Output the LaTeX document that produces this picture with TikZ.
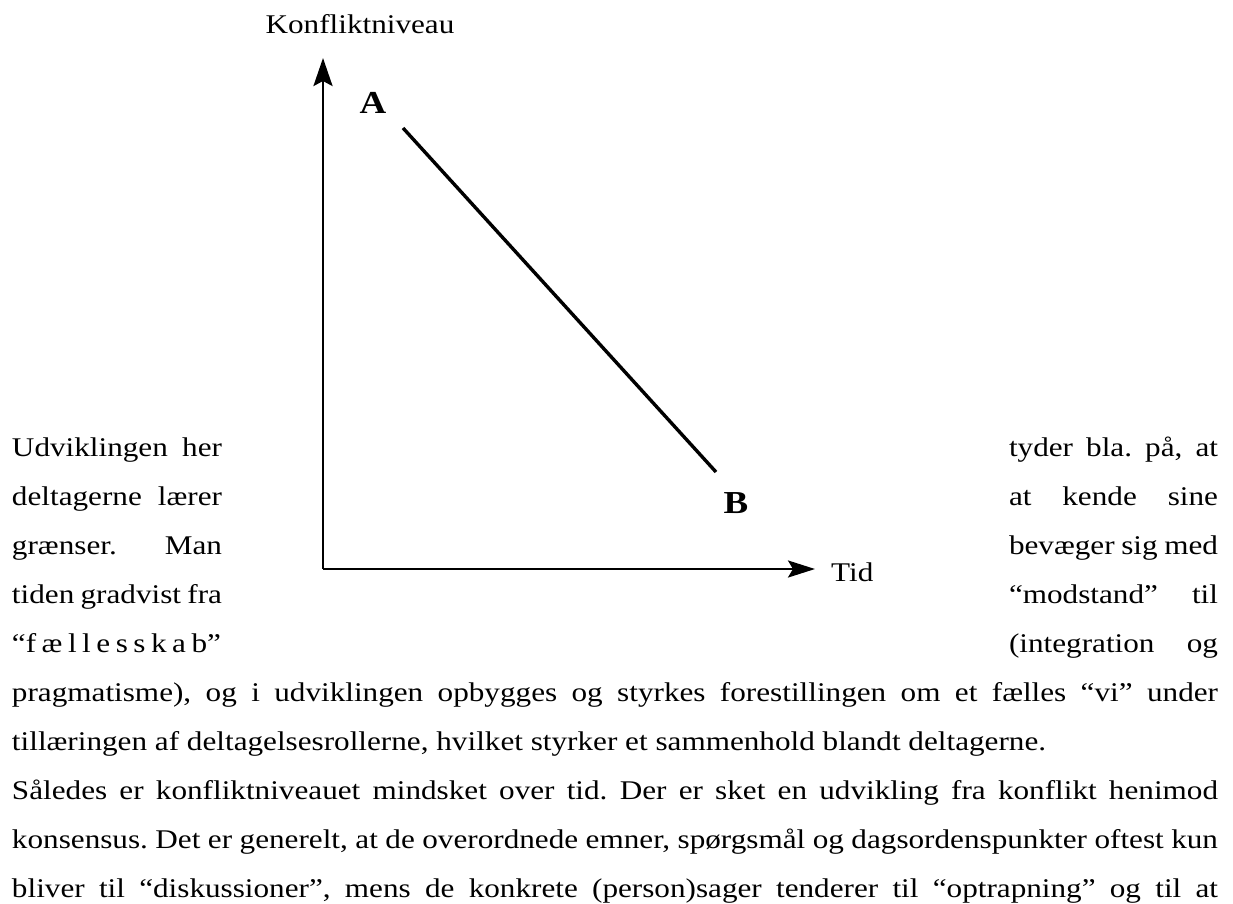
\documentclass[tikz,border=0pt]{standalone}
\usepackage{fontspec}
\setmainfont[FakeStretch=1.155]{Liberation Serif}
\usetikzlibrary{arrows.meta}
\frenchspacing
\tikzset{
  body/.style={inner sep=0pt, outer sep=0pt, anchor=base west, font=\fontsize{27}{49}\selectfont},
  axislabel/.style={inner sep=0pt, font=\fontsize{27}{32}\selectfont},
  pointlabel/.style={inner sep=0pt, anchor=base, font=\fontsize{32}{38}\selectfont\bfseries},
  yaxis/.style={line width=2.7pt, -{Stealth[length=28pt,width=19pt,inset=5pt]}},
  xaxis/.style={line width=2.7pt, -{Stealth[length=27pt,width=17pt,inset=5pt]}},
  trend/.style={line width=3.4pt}
}
\begin{document}
\begin{tikzpicture}[x=1pt,y=-1pt]
\useasboundingbox (0,0) rectangle (1233,903);

% axes of the sketch
\coordinate (origin) at (323,569);
\coordinate (ytip) at (323,58);
\coordinate (xtip) at (815,569);
\draw[yaxis] (origin) -- (ytip);
\draw[xaxis] (origin) -- (xtip);
\node[axislabel, anchor=base] (ylab) at (360,33) {Konfliktniveau};
\node[axislabel, anchor=base west] (xlab) at (831,581) {Tid};

% falling conflict level from A to B
\coordinate (ptA) at (403,128);
\coordinate (ptB) at (716,472);
\draw[trend] (ptA) -- (ptB);
\node[pointlabel] (labA) at (373,113) {A};
\node[pointlabel] (labB) at (736,513) {B};

% text flowing round the sketch: left column
\node[body] (l1) at (12,456) {\makebox[210pt][s]{Udviklingen her}};
\node[body] (l2) at (12,505) {\makebox[210pt][s]{deltagerne lærer}};
\node[body] (l3) at (12,554) {\makebox[210pt][s]{grænser. Man}};
\node[body] (l4) at (12,603) {\makebox[210pt][s]{tiden gradvist fra}};
\node[body] (l5) at (12,652) {\makebox[209pt][s]{“f\hfill æ\hfill l\hfill l\hfill e\hfill s\hfill s\hfill k\hfill a\hfill b”}};

% right column
\node[body] (r1) at (1009,456) {\makebox[209pt][s]{tyder bla. på, at}};
\node[body] (r2) at (1009,505) {\makebox[209pt][s]{at kende sine}};
\node[body] (r3) at (1009,554) {\makebox[209pt][s]{bevæger sig med}};
\node[body] (r4) at (1009,603) {\makebox[209pt][s]{“modstand” til}};
\node[body] (r5) at (1009,652) {\makebox[209pt][s]{(integration og}};

% full-width lines below the sketch
\node[body] (f1) at (12,701) {\makebox[1206pt][s]{pragmatisme), og i udviklingen opbygges og styrkes forestillingen om et fælles “vi” under}};
\node[body] (f2) at (12,750) {tillæringen af deltagelsesrollerne, hvilket styrker et sammenhold blandt deltagerne.};
\node[body] (f3) at (12,799) {\makebox[1206pt][s]{Således er konfliktniveauet mindsket over tid. Der er sket en udvikling fra konflikt henimod}};
\node[body] (f4) at (12,848) {\makebox[1206pt][s]{konsensus. Det er generelt, at de overordnede emner, spørgsmål og dagsordenspunkter oftest kun}};
\node[body] (f5) at (12,897) {\makebox[1206pt][s]{bliver til “diskussioner”, mens de konkrete (person)sager tenderer til “optrapning” og til at}};
\end{tikzpicture}
\end{document}
